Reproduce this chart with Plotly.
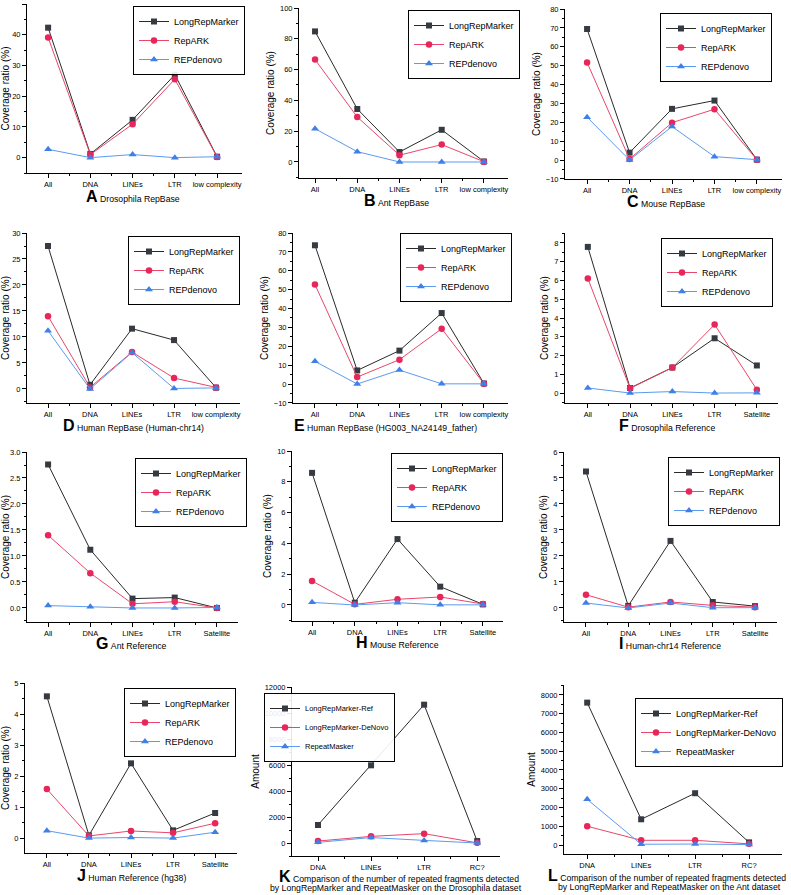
import plotly.graph_objects as go

# categories
cats_rb = ["All", "DNA", "LINEs", "LTR", "low complexity"]
cats_ref = ["All", "DNA", "LINEs", "LTR", "Satellite"]
cats_frag = ["DNA", "LINEs", "LTR", "RC?"]

names_cov = ["LongRepMarker", "RepARK", "REPdenovo"]
names_frag = ["LongRepMarker-Ref", "LongRepMarker-DeNovo", "RepeatMasker"]

# A Drosophila RepBase
a_lrm = [42.3, 1.2, 12.3, 27.0, 0.3]
a_rep = [39.1, 1.0, 10.9, 25.5, 0.2]
a_den = [2.7, 0.0, 1.0, 0.0, 0.3]
# B Ant RepBase
b_lrm = [84.8, 34.4, 6.5, 20.9, 0.3]
b_rep = [66.5, 29.2, 4.4, 11.3, 0.2]
b_den = [21.6, 6.7, 0.0, 0.0, 0.0]
# C Mouse RepBase
c_lrm = [69.4, 3.9, 27.1, 31.5, 0.2]
c_rep = [51.7, 0.5, 19.8, 26.9, 0.1]
c_den = [22.7, 0.0, 17.7, 1.8, 0.2]
# D Human RepBase (Human-chr14)
d_lrm = [27.5, 0.8, 11.6, 9.4, 0.25]
d_rep = [14.0, 0.3, 7.1, 2.1, 0.3]
d_den = [11.2, 0.0, 7.0, 0.1, 0.2]
# E Human RepBase (HG003_NA24149_father)
e_lrm = [73.5, 7.2, 17.7, 37.6, 0.3]
e_rep = [52.7, 3.7, 12.9, 29.3, 0.2]
e_den = [12.0, 0.0, 7.4, 0.1, 0.1]
# F Drosophila Reference
f_lrm = [7.79, 0.27, 1.36, 2.92, 1.47]
f_rep = [6.11, 0.25, 1.36, 3.65, 0.18]
f_den = [0.27, 0.0, 0.08, 0.0, 0.01]
# G Ant Reference
g_lrm = [2.76, 1.12, 0.18, 0.2, 0.0]
g_rep = [1.40, 0.67, 0.08, 0.12, 0.0]
g_den = [0.045, 0.025, 0.0, 0.0, 0.01]
# H Mouse Reference
h_lrm = [8.58, 0.15, 4.28, 1.19, 0.04]
h_rep = [1.56, 0.04, 0.37, 0.52, 0.06]
h_den = [0.17, 0.0, 0.15, 0.01, 0.01]
# I Human-chr14 Reference
i_lrm = [5.25, 0.08, 2.58, 0.23, 0.07]
i_rep = [0.51, 0.03, 0.23, 0.10, 0.03]
i_den = [0.19, 0.0, 0.19, 0.01, 0.01]
# J Human Reference (hg38)
j_lrm = [4.57, 0.09, 2.41, 0.25, 0.81]
j_rep = [1.58, 0.07, 0.23, 0.17, 0.48]
j_den = [0.24, 0.0, 0.02, 0.0, 0.19]
# K Drosophila fragments
k_ref = [1385, 5975, 10640, 150]
k_dnv = [150, 510, 720, 10]
k_rm = [50, 420, 200, 0]
# L Ant fragments
l_ref = [7590, 1370, 2760, 140]
l_dnv = [1000, 250, 250, 60]
l_rm = [2435, 40, 50, 20]

W, H = 791, 895
FONT = "Liberation Sans"

line_cols = ["#2a2a2a", "#e8476b", "#5b9bf0"]
mark_cols = ["#353b40", "#e8265a", "#3f7fe8"]
symbols = ["square", "circle", "triangle-up"]
msizes = [6, 6.5, 7]

# panel layout: box in px (left, top, right, bottom), x range, y range, y dtick,
# caption centre, legend top-right corner
panels = [
    dict(cats=cats_rb, ys=[a_lrm, a_rep, a_den], names=names_cov, box=(27, 4, 242, 173),
         xr=[-0.5, 4.59], yr=[-5, 50], dt=10, fmt="", ytitle="Coverage ratio (%)",
         letter="A", cap="Drosophila RepBase", cxy=(133, 196), leg=(245, 6), lf=9),
    dict(cats=cats_rb, ys=[b_lrm, b_rep, b_den], names=names_cov, box=(299, 8, 508, 178),
         xr=[-0.38, 4.57], yr=[-10.4, 100], dt=20, fmt="", ytitle="Coverage ratio (%)",
         letter="B", cap="Ant RepBase", cxy=(396, 200), leg=(520, 10), lf=9),
    dict(cats=cats_rb, ys=[c_lrm, c_rep, c_den], names=names_cov, box=(565, 9, 782, 179),
         xr=[-0.52, 4.59], yr=[-10.05, 80], dt=10, fmt="", ytitle="Coverage ratio (%)",
         letter="C", cap="Mouse RepBase", cxy=(666, 202), leg=(772, 13), lf=9),
    dict(cats=cats_rb, ys=[d_lrm, d_rep, d_den], names=names_cov, box=(27, 233, 240, 403),
         xr=[-0.5, 4.57], yr=[-2.7, 30], dt=5, fmt="", ytitle="Coverage ratio (%)",
         letter="D", cap="Human RepBase (Human-chr14)", cxy=(133, 425), leg=(240, 236), lf=9),
    dict(cats=cats_rb, ys=[e_lrm, e_rep, e_den], names=names_cov, box=(293, 233, 508, 403),
         xr=[-0.52, 4.57], yr=[-10.05, 80], dt=10, fmt="", ytitle="Coverage ratio (%)",
         letter="E", cap="Human RepBase (HG003_NA24149_father)", cxy=(385, 425), leg=(512, 233), lf=9),
    dict(cats=cats_ref, ys=[f_lrm, f_rep, f_den], names=names_cov, box=(565, 233, 778, 403),
         xr=[-0.54, 4.5], yr=[-0.53, 8.53], dt=1, fmt="", ytitle="Coverage ratio (%)",
         letter="F", cap="Drosophila Reference", cxy=(667, 425), leg=(773, 238), lf=9),
    dict(cats=cats_ref, ys=[g_lrm, g_rep, g_den], names=names_cov, box=(27, 452, 238, 622),
         xr=[-0.5, 4.5], yr=[-0.27, 3.0], dt=0.5, fmt=".1f", ytitle="Coverage ratio (%)",
         letter="G", cap="Ant Reference", cxy=(131, 643), leg=(247, 458), lf=9),
    dict(cats=cats_ref, ys=[h_lrm, h_rep, h_den], names=names_cov, box=(292, 451, 503, 621),
         xr=[-0.47, 4.47], yr=[-1.04, 10], dt=2, fmt="", ytitle="Coverage ratio (%)",
         letter="H", cap="Mouse Reference", cxy=(397, 642), leg=(503, 453), lf=9),
    dict(cats=cats_ref, ys=[i_lrm, i_rep, i_den], names=names_cov, box=(564, 452, 777, 622),
         xr=[-0.52, 4.52], yr=[-0.54, 6], dt=1, fmt="", ytitle="Coverage ratio (%)",
         letter="I", cap="Human-chr14 Reference", cxy=(670, 643), leg=(780, 457), lf=9),
    dict(cats=cats_ref, ys=[j_lrm, j_rep, j_den], names=names_cov, box=(25, 683, 237, 853),
         xr=[-0.52, 4.52], yr=[-0.48, 5], dt=1, fmt="", ytitle="Coverage ratio (%)",
         letter="J", cap="Human Reference (hg38)", cxy=(131, 875), leg=(236, 688), lf=9),
    dict(cats=cats_frag, ys=[k_ref, k_dnv, k_rm], names=names_frag, box=(292, 687, 500, 856),
         xr=[-0.49, 3.43], yr=[-1000, 12000], dt=2000, fmt="d", ytitle="Amount",
         letter="K", cap="Comparison of the number of repeated fragments detected",
         cap2="by LongRepMarker and RepeatMasker on the Drosophila dataset",
         cxy=(399, 876), c2xy=(396, 888), leg=(395, 693), lf=7.5),
    dict(cats=cats_frag, ys=[l_ref, l_dnv, l_rm], names=names_frag, box=(564, 685, 782, 854),
         xr=[-0.43, 3.61], yr=[-480, 8530], dt=1000, fmt="d", ytitle="Amount",
         letter="L", cap="Comparison of the number of repeated fragments detected",
         cap2="by LongRepMarker and RepeatMasker on the Ant dataset",
         cxy=(667, 875), c2xy=(669, 887), leg=(783, 698), lf=9),
]

fig = go.Figure()
annotations = []
layout = {}

for k, p in enumerate(panels, start=1):
    sfx = "" if k == 1 else str(k)
    leg_id = "legend" + sfx
    n = len(p["cats"])
    xs = list(range(n))
    for j in range(3):
        fig.add_trace(go.Scatter(
            x=xs, y=p["ys"][j], name=p["names"][j], mode="lines+markers",
            line=dict(color=line_cols[j], width=1),
            marker=dict(symbol=symbols[j], size=msizes[j], color=mark_cols[j]),
            xaxis="x" + sfx, yaxis="y" + sfx, legend=leg_id,
        ))
    l, t, r, b = p["box"]
    layout["xaxis" + sfx] = dict(
        domain=[l / W, r / W], range=p["xr"], anchor="y" + sfx, automargin=False,
        tickmode="array", tickvals=xs, ticktext=p["cats"],
        showline=True, linecolor="black", linewidth=1, showgrid=False, zeroline=False,
        ticks="outside", ticklen=4, tickcolor="black",
        tickfont=dict(size=7.5, color="black", family=FONT),
        minor=dict(tickmode="array", tickvals=[x + 0.5 for x in xs[:-1]],
                   ticks="outside", ticklen=2, tickcolor="black"),
    )
    layout["yaxis" + sfx] = dict(
        domain=[1 - b / H, 1 - t / H], range=p["yr"], anchor="x" + sfx, automargin=False,
        tickmode="linear", tick0=0, dtick=p["dt"], tickformat=p["fmt"],
        showline=True, linecolor="black", linewidth=1, showgrid=False, zeroline=False,
        ticks="outside", ticklen=4, tickcolor="black",
        tickfont=dict(size=7.5, color="black", family=FONT),
        minor=dict(tick0=0, dtick=p["dt"] / 2, ticks="outside", ticklen=2, tickcolor="black"),
        title=dict(text=p["ytitle"], standoff=3, font=dict(size=10, color="black", family=FONT)),
    )
    layout[leg_id] = dict(
        x=p["leg"][0] / W, y=1 - p["leg"][1] / H, xanchor="right", yanchor="top",
        bordercolor="black", borderwidth=1, bgcolor="rgba(255,255,255,0.9)",
        font=dict(size=p["lf"], color="black", family=FONT), itemwidth=30,
        tracegroupgap=0,
    )
    annotations.append(dict(
        x=p["cxy"][0] / W, y=1 - p["cxy"][1] / H, xref="paper", yref="paper",
        xanchor="center", yanchor="middle", showarrow=False,
        text="<b><span style='font-size:16px'>%s</span></b>&nbsp;%s" % (p["letter"], p["cap"]),
        font=dict(size=8.7, color="black", family=FONT),
    ))
    if "cap2" in p:
        annotations.append(dict(
            x=p["c2xy"][0] / W, y=1 - p["c2xy"][1] / H, xref="paper", yref="paper",
            xanchor="center", yanchor="middle", showarrow=False, text=p["cap2"],
            font=dict(size=8.7, color="black", family=FONT),
        ))

fig.update_layout(
    width=W, height=H, margin=dict(l=0, r=0, t=0, b=0, autoexpand=False),
    paper_bgcolor="white", plot_bgcolor="white",
    font=dict(family=FONT, color="black"),
    annotations=annotations, showlegend=True,
    **layout,
)

# the page body has a default margin; drop it so the figure fills the window
fig.write_html("out.html", config={"displayModeBar": False},
               post_script="document.body.style.margin = '0px';")
